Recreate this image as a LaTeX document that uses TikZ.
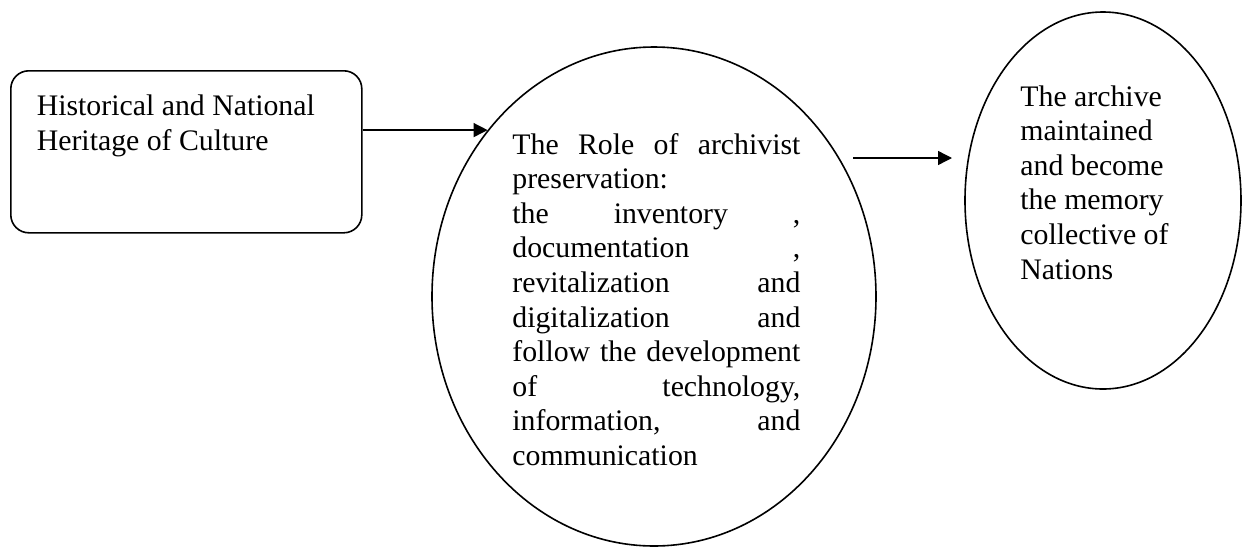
\documentclass[tikz,border=0pt]{standalone}
\usepackage{fontspec}
\setmainfont{Liberation Serif}
\usetikzlibrary{arrows.meta,shapes.geometric}
\begin{document}
\begin{tikzpicture}[x=0.5pt,y=-0.5pt,
  shapeline/.style={draw=black, line width=0.8pt},
  flowbox/.style={shapeline, rounded corners=9pt, minimum width=175.5pt,
    minimum height=81pt, inner xsep=13pt, inner ysep=0pt, anchor=north west},
  blob/.style={shapeline, ellipse, inner sep=0pt},
  txt/.style={inner sep=0pt, anchor=base west},
  conn/.style={line width=0.7pt, -{Triangle[length=7pt,width=7pt]}},
  every node/.append style={font=\fontsize{14.9}{17.3}\selectfont}]
\useasboundingbox (0,0) rectangle (1244,547);

% shapes
\node[flowbox] (heritage) at (10,70)
  {\parbox[c][81pt][t]{149.5pt}{\rule{0pt}{22.5pt}Historical and National\\Heritage of Culture}};
\node[blob, minimum width=222pt, minimum height=249.5pt] (role) at (654,296.5) {};
\node[blob, minimum width=138pt, minimum height=188.5pt] (archive) at (1103,200.5) {};

% texts inside the ellipses
\node[txt] (roletext) at (512,154) {\parbox[t]{144pt}{%
The\hfill Role\hfill of\hfill archivist\\
preservation:\\
the\hfill inventory\hfill ,\\
documentation\hfill ,\\
revitalization\hfill and\\
digitalization\hfill and\\
follow\hfill the\hfill development\\
of\hfill technology,\\
information,\hfill and\\
communication}};
\node[txt] (archivetext) at (1020,106) {\parbox[t]{100pt}{%
The archive\\
maintained\\
and become\\
the memory\\
collective of\\
Nations}};

% connectors
\draw[conn] (heritage.east |- role.135) -- (role.135);
\coordinate (outstart) at (853,158);
\coordinate (outend) at (952,158);
\draw[conn] (outstart) -- (outend);
\end{tikzpicture}
\end{document}
